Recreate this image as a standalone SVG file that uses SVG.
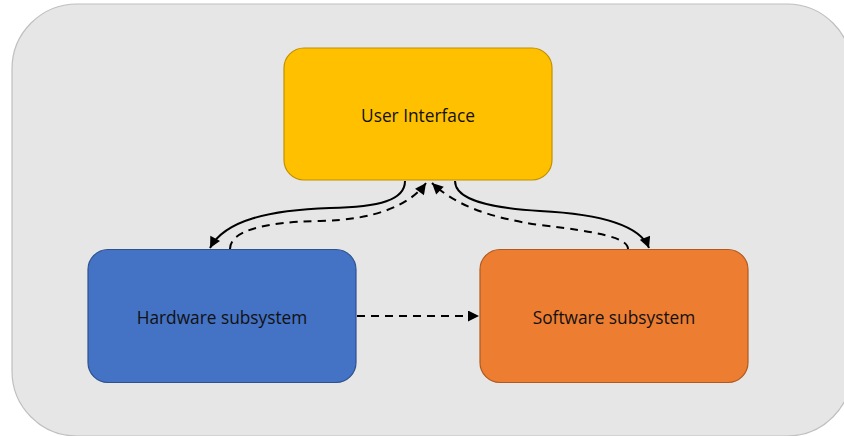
<svg xmlns="http://www.w3.org/2000/svg" width="844" height="436" viewBox="0 0 844 436">
  <defs>
    <marker id="arr" viewBox="0 0 10 10" refX="10" refY="5" markerWidth="13" markerHeight="11" markerUnits="userSpaceOnUse" orient="auto">
      <path d="M0,0 L10,5 L0,10 Z" fill="#000"/>
    </marker>
  </defs>
  <style>
    .lbl { font-family: "Open Sans", "Liberation Sans", sans-serif; font-size: 17.3px; fill: #111; text-anchor: middle; }
    .conn { fill: none; stroke: #000; stroke-width: 2; marker-end: url(#arr); }
    .dash { stroke-dasharray: 8 6; }
  </style>
  <rect x="12" y="4" width="840" height="432" rx="65" ry="65" fill="#e6e6e6" stroke="#bfbfbf" stroke-width="1.2"/>
  <g id="ui">
    <rect x="284" y="48" width="268" height="132" rx="20" fill="#ffc000" stroke="#c09000" stroke-width="1.2"/>
    <text class="lbl" x="418" y="122">User Interface</text>
  </g>
  <g id="hardware">
    <rect x="88" y="249.5" width="268" height="133" rx="20" fill="#4472c4" stroke="#2f528f" stroke-width="1.2"/>
    <text class="lbl" x="222" y="324">Hardware subsystem</text>
  </g>
  <g id="software">
    <rect x="480" y="249.5" width="268" height="133" rx="20" fill="#ed7d31" stroke="#ae5a21" stroke-width="1.2"/>
    <text class="lbl" x="614" y="324">Software subsystem</text>
  </g>
  <g id="connectors">
    <path class="conn" d="M405,181 C405,200 380,207 330,208 C270,210 225,220 210,248"/>
    <path class="conn dash" d="M230,249 C230,232 260,222 320,221 C375,220 410,205 426,183"/>
    <path class="conn dash" d="M628,249 C628,238 600,232 540,225 C490,218 455,205 432,183"/>
    <path class="conn" d="M455,181 C455,200 490,208 540,211 C600,214 640,225 649,248"/>
    <path class="conn dash" d="M357,316 L479,316"/>
  </g>
</svg>
